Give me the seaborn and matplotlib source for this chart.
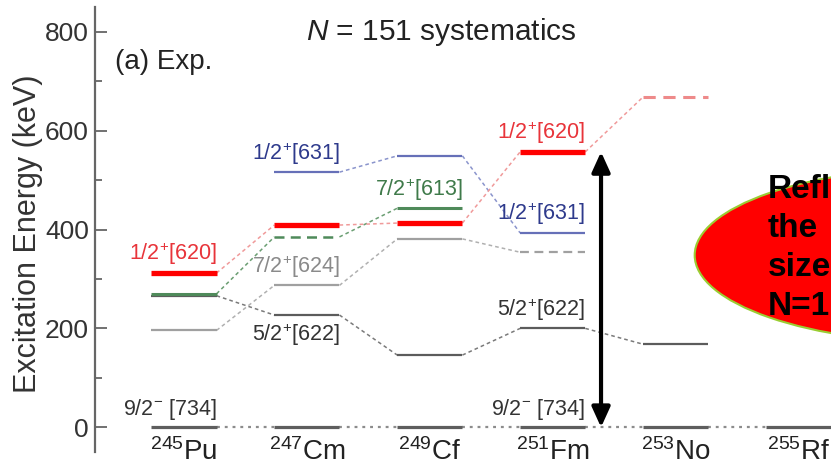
import matplotlib
matplotlib.use('Agg')
import matplotlib.pyplot as plt
from matplotlib.patches import Ellipse
from matplotlib.ticker import MultipleLocator
import seaborn as sns

# Estilo: fundo branco, só o eixo vertical
sns.set_theme(style="ticks")
plt.rcParams['font.family'] = ['Liberation Sans', 'DejaVu Sans']
plt.rcParams['mathtext.fontset'] = 'custom'
plt.rcParams['mathtext.rm'] = 'Liberation Sans'
plt.rcParams['mathtext.it'] = 'Liberation Sans:italic'

#%% Dados: isótonos N = 151
nucleos = ['$^{245}$Pu', '$^{247}$Cm', '$^{249}$Cf', '$^{251}$Fm', '$^{253}$No', '$^{255}$Rf']

e_620 = [312, 409, 413, 557, 668, None]    # 1/2+[620]
e_613 = [270, 385, 443, None, None, None]  # 7/2+[613]
e_631 = [None, 516, 549, 393, None, None]  # 1/2+[631]
e_624 = [196, 287, 381, 354, None, None]   # 7/2+[624]
e_622 = [266, 227, 146, 200, 168, None]    # 5/2+[622]
e_734 = [0, 0, 0, 0, 0, 0]                 # 9/2-[734] (fundamental)

rotulo_620 = '1/2$^{+}$[620]'
rotulo_613 = '7/2$^{+}$[613]'
rotulo_631 = '1/2$^{+}$[631]'
rotulo_624 = '7/2$^{+}$[624]'
rotulo_622 = '5/2$^{+}$[622]'
rotulo_734 = '9/2$^{-}$ [734]'

# texto do balão (cortado na borda, como no original)
texto_balao = 'Refl\nthe\nsize\nN=1'

# estilo de cada banda: (energias, cor do nível, cor da ligação, cor do texto, espessura)
bandas = {
    '734': (e_734, '#5e5e5e', '#8c8c8c', '#333333', 2.3),
    '622': (e_622, '#5c5c5c', '#7a7a7a', '#333333', 1.6),
    '624': (e_624, '#a0a0a0', '#b0b0b0', '#8a8a8a', 1.6),
    '631': (e_631, '#6670b8', '#8a94cc', '#2e3a8c', 1.6),
    '613': (e_613, '#4f8a5a', '#6a9e72', '#3f7a4a', 2.2),
    '620': (e_620, '#ff0000', '#f09a9a', '#e8343a', 3.8),
}
# níveis tentativos (tracejados): (banda, núcleo) -> (cor, espessura)
tentativos = {('620', 4): ('#ee8a8a', 2.2), ('613', 1): ('#4f8a5a', 1.8),
              ('624', 3): ('#a0a0a0', 1.6)}

# onde aparece cada rótulo: (banda, núcleo, texto, acima?)
rotulos = [
    ('620', 0, rotulo_620, True), ('620', 3, rotulo_620, True),
    ('613', 2, rotulo_613, True),
    ('631', 1, rotulo_631, True), ('631', 3, rotulo_631, True),
    ('624', 1, rotulo_624, True),
    ('622', 1, rotulo_622, False), ('622', 3, rotulo_622, True),
    ('734', 0, rotulo_734, True), ('734', 3, rotulo_734, True),
]

meia = 0.265  # meia largura de cada nível

#%% Gráfico
fig = plt.figure(figsize=(8.31, 4.66), dpi=100)
ax = fig.add_axes([95 / 831, 14 / 466, 736 / 831, 445 / 466])

for nome, (energias, cor, cor_lig, cor_txt, lw) in bandas.items():
    # ligações entre núcleos vizinhos
    for i in range(len(energias) - 1):
        if energias[i] is not None and energias[i + 1] is not None:
            if nome == '734':
                ax.plot([i + meia, i + 1 - meia], [energias[i], energias[i + 1]],
                        ls=(0, (1.3, 2.2)), lw=1.6, color=cor_lig, zorder=2)
            else:
                ax.plot([i + meia, i + 1 - meia], [energias[i], energias[i + 1]],
                        ls=(0, (2.4, 2.0)), lw=1.1, color=cor_lig, zorder=2)
    # níveis
    for i, e in enumerate(energias):
        if e is None:
            continue
        if (nome, i) in tentativos:
            cor_t, lw_t = tentativos[(nome, i)]
            ax.hlines(e, i - meia, i + meia, color=cor_t, lw=lw_t,
                      linestyles=(0, (4, 2.5)), zorder=3)
        else:
            ax.hlines(e, i - meia, i + meia, color=cor, lw=lw, zorder=3)

for nome, i, texto, acima in rotulos:
    energias, _, _, cor_txt, _ = bandas[nome]
    ax.annotate(texto, xy=(i + meia, energias[i]), xytext=(0, 4 if acima else -5),
                textcoords='offset points', ha='right', va='bottom' if acima else 'top',
                fontsize=15.5, color=cor_txt, zorder=4)

# seta dupla: do fundamental até 1/2+[620] no Fm
ax.annotate('', xy=(3.393, e_620[3]), xytext=(3.393, e_734[3]),
            arrowprops=dict(arrowstyle='<|-|>,head_length=0.55,head_width=0.25',
                            lw=3, color='black', mutation_scale=22,
                            shrinkA=0, shrinkB=0), zorder=6)

# balão vermelho
ax.add_patch(Ellipse((6.23, 348), width=4.15, height=356, facecolor='#ff0000',
                     edgecolor='#9acd32', lw=1.5, zorder=5))
ax.text(4.752, 512, texto_balao, fontsize=24, fontweight='bold',
        color='black', ha='left', va='top', linespacing=1.33, zorder=7)

ax.text(2.09, 800, '$N$ = 151 systematics', fontsize=21.5, ha='center', va='center', color='#222222')
ax.text(-0.561, 739, '(a) Exp.', fontsize=20, ha='left', va='center', color='#222222')

# eixos
ax.set_xlim(-0.724, 5.264)
ax.set_ylim(-50, 850)
ax.set_yticks([0, 200, 400, 600, 800])
ax.yaxis.set_minor_locator(MultipleLocator(100))
ax.tick_params(axis='y', which='major', direction='in', length=8.6, width=1.3,
               color='#666666', labelsize=19, labelcolor='#333333', pad=4.5)
ax.tick_params(axis='y', which='minor', direction='in', length=5, width=1.3, color='#666666')
ax.set_xticks(range(len(nucleos)))
ax.set_xticklabels(nucleos)
ax.tick_params(axis='x', length=0, labelsize=20, labelcolor='#222222', pad=-10)
ax.set_ylabel('Excitation Energy (keV)', fontsize=22, color='#333333')
ax.yaxis.set_label_coords(-0.071, 0.49)

sns.despine(ax=ax, top=True, right=True, bottom=True)
ax.spines['left'].set_color('#666666')
ax.spines['left'].set_linewidth(1.6)
ax.set_facecolor('white')
ax.grid(False)

fig.savefig('out.png', dpi=100)
